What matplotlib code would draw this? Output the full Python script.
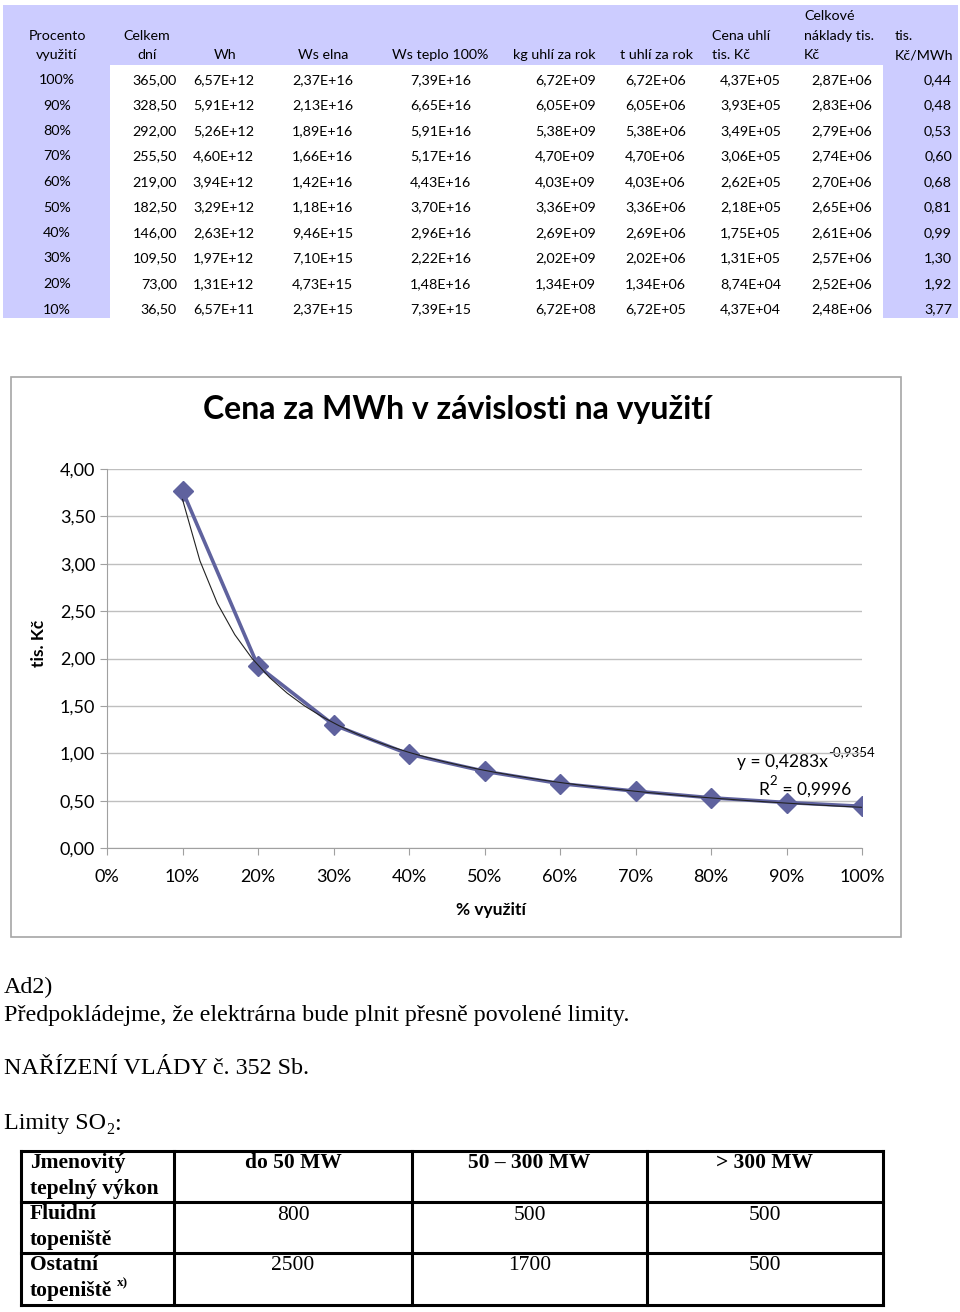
import numpy as np
import matplotlib
matplotlib.use("Agg")
import matplotlib.pyplot as plt
from matplotlib.patches import Rectangle
from matplotlib.ticker import FuncFormatter, MultipleLocator

# data z tabulky
procento = ["100%", "90%", "80%", "70%", "60%", "50%", "40%", "30%", "20%", "10%"]
vyuziti = [1.0, 0.9, 0.8, 0.7, 0.6, 0.5, 0.4, 0.3, 0.2, 0.1]
celkem_dni = [365.00, 328.50, 292.00, 255.50, 219.00, 182.50, 146.00, 109.50, 73.00, 36.50]
wh = [6.57e12, 5.91e12, 5.26e12, 4.60e12, 3.94e12, 3.29e12, 2.63e12, 1.97e12, 1.31e12, 6.57e11]
ws_elna = [2.37e16, 2.13e16, 1.89e16, 1.66e16, 1.42e16, 1.18e16, 9.46e15, 7.10e15, 4.73e15, 2.37e15]
ws_teplo = [7.39e16, 6.65e16, 5.91e16, 5.17e16, 4.43e16, 3.70e16, 2.96e16, 2.22e16, 1.48e16, 7.39e15]
kg_uhli = [6.72e9, 6.05e9, 5.38e9, 4.70e9, 4.03e9, 3.36e9, 2.69e9, 2.02e9, 1.34e9, 6.72e8]
t_uhli = [6.72e6, 6.05e6, 5.38e6, 4.70e6, 4.03e6, 3.36e6, 2.69e6, 2.02e6, 1.34e6, 6.72e5]
cena_uhli = [4.37e5, 3.93e5, 3.49e5, 3.06e5, 2.62e5, 2.18e5, 1.75e5, 1.31e5, 8.74e4, 4.37e4]
naklady = [2.87e6, 2.83e6, 2.79e6, 2.74e6, 2.70e6, 2.65e6, 2.61e6, 2.57e6, 2.52e6, 2.48e6]
cena_mwh = [0.44, 0.48, 0.53, 0.60, 0.68, 0.81, 0.99, 1.30, 1.92, 3.77]

# limity SO2
limity_hlavicka = ["do 50 MW", "50 – 300 MW", "> 300 MW"]
fluidni = [800, 500, 500]
ostatni = [2500, 1700, 500]

W, H = 960, 1312
LAV = "#CCCCFF"
SANS = "Lato"
SERIF = "Liberation Serif"


def sci(v):
    return f"{v:.2E}".replace(".", ",")


def dec(v):
    return f"{v:.2f}".replace(".", ",")


fig = plt.figure(figsize=(W / 100, H / 100), dpi=100)
bg = fig.add_axes([0, 0, 1, 1])
bg.set_xlim(0, W)
bg.set_ylim(H, 0)
bg.axis("off")
renderer = fig.canvas.get_renderer()


def konec(t):
    # prava hrana textu v pixelech
    return t.get_window_extent(renderer=renderer).x1


# --- horni tabulka ---
bg.add_patch(Rectangle((3, 5), 955, 313, color=LAV, lw=0))
bg.add_patch(Rectangle((110, 65), 773, 253, color="white", lw=0))

hdr_center = [(57, ["Procento", "využití"]), (147, ["Celkem", "dní"]),
              (225, ["Wh"]), (323, ["Ws elna"]), (440, ["Ws teplo 100%"]),
              (554, ["kg uhlí za rok"]), (656, ["t uhlí za rok"])]
hdr_left = [(712, ["Cena uhlí", "tis. Kč"]), (804, ["Celkové", "náklady tis.", "Kč"]),
            (895, ["tis.", "Kč/MWh"])]
fs_tab = 10.3
for x, lines in hdr_center:
    for i, t in enumerate(reversed(lines)):
        bg.text(x, 55 - 19.5 * i, t, ha="center", va="center", fontsize=fs_tab, family=SANS)
for x, lines in hdr_left:
    for i, t in enumerate(reversed(lines)):
        bg.text(x, 55 - 19.5 * i, t, ha="left", va="center", fontsize=fs_tab, family=SANS)

cols = [(177, celkem_dni, dec), (254, wh, sci), (353, ws_elna, sci), (471, ws_teplo, sci),
        (596, kg_uhli, sci), (686, t_uhli, sci), (781, cena_uhli, sci),
        (872, naklady, sci), (952, cena_mwh, dec)]
for r in range(len(procento)):
    y = 80 + r * 25.5
    bg.text(57, y, procento[r], ha="center", va="center", fontsize=fs_tab, family=SANS)
    for x, vals, fmt in cols:
        bg.text(x, y, fmt(vals[r]), ha="right", va="center", fontsize=fs_tab, family=SANS)

# --- graf ---
bg.add_patch(Rectangle((11, 377), 890, 560, fill=False, ec="#A6A6A6", lw=1.2))
bg.text(457, 410, "Cena za MWh v závislosti na využití", ha="center", va="center",
        fontsize=23, fontweight="bold", family=SANS)

x0, x1, y0, y1 = 107, 862, 469, 848
ax = fig.add_axes([x0 / W, (H - y1) / H, (x1 - x0) / W, (y1 - y0) / H])
ax.set_facecolor("none")
ax.set_xlim(0, 1)
ax.set_ylim(0, 4)
ax.yaxis.set_major_locator(MultipleLocator(0.5))
ax.xaxis.set_major_locator(MultipleLocator(0.1))
ax.yaxis.set_major_formatter(FuncFormatter(lambda v, p: dec(v)))
ax.xaxis.set_major_formatter(FuncFormatter(lambda v, p: f"{v * 100:.0f}%"))
ax.grid(axis="y", color="#BFBFBF", lw=1)
ax.set_axisbelow(True)
for s in ["top", "right"]:
    ax.spines[s].set_visible(False)
for s in ["left", "bottom"]:
    ax.spines[s].set_color("#A0A0A0")
ax.tick_params(colors="#A0A0A0", labelcolor="black", labelsize=13, length=5)
for lab in ax.get_xticklabels() + ax.get_yticklabels():
    lab.set_family(SANS)
ax.tick_params(axis="x", pad=10)

ax.plot(vyuziti, cena_mwh, color="#5F629E", lw=2.6, marker="D", ms=10.5, zorder=3)

# mocninna spojnice trendu
k, q = np.polyfit(np.log(vyuziti), np.log(cena_mwh), 1)
xt = np.linspace(min(vyuziti), max(vyuziti), 40)
ax.plot(xt, np.exp(q) * xt ** k, color="#222222", lw=0.8, zorder=4)

ax.set_xlabel("% využití", fontsize=12.5, fontweight="bold", family=SANS)
ax.set_ylabel("tis. Kč", fontsize=12.5, fontweight="bold", family=SANS)
ax.xaxis.set_label_coords(0.509, -0.142)
ax.yaxis.set_label_coords(-0.08, 0.54)

t = bg.text(737, 762, "y = 0,4283x", ha="left", va="center", fontsize=12.5, family=SANS)
bg.text(konec(t), 752, "-0,9354", ha="left", va="center", fontsize=9.5, family=SANS)
t = bg.text(758, 790, "R", ha="left", va="center", fontsize=12.5, family=SANS)
t2 = bg.text(konec(t) + 1, 781, "2", ha="left", va="center", fontsize=9.5, family=SANS)
bg.text(konec(t2), 790, " = 0,9996", ha="left", va="center", fontsize=12.5, family=SANS)

# --- text pod grafem ---
fs_ser = 17.3
bg.text(4, 987, "Ad2)", ha="left", va="center", fontsize=fs_ser, family=SERIF)
bg.text(4, 1015, "Předpokládejme, že elektrárna bude plnit přesně povolené limity.",
        ha="left", va="center", fontsize=fs_ser, family=SERIF)
bg.text(4, 1069, "NAŘÍZENÍ VLÁDY č. 352 Sb.", ha="left", va="center", fontsize=fs_ser, family=SERIF)
t = bg.text(4, 1124, "Limity SO", ha="left", va="center", fontsize=fs_ser, family=SERIF)
t2 = bg.text(konec(t), 1130, "2", ha="left", va="center", fontsize=11.5, family=SERIF)
bg.text(konec(t2), 1124, ":", ha="left", va="center", fontsize=fs_ser, family=SERIF)

# --- tabulka limitu ---
xs = [21, 174, 412, 647, 883]
ys = [1151, 1202, 1253, 1305]
for x in xs:
    bg.plot([x, x], [ys[0], ys[-1]], color="black", lw=2.2, solid_capstyle="projecting")
for y in ys:
    bg.plot([xs[0], xs[-1]], [y, y], color="black", lw=2.2, solid_capstyle="projecting")

fs_lim = 15.5
rows_lbl = [["Jmenovitý", "tepelný výkon"], ["Fluidní", "topeniště"], ["Ostatní", "topeniště"]]
for r, lines in enumerate(rows_lbl):
    for i, s in enumerate(lines):
        t = bg.text(30, ys[r] + 12 + 26 * i, s, ha="left", va="center", fontsize=fs_lim,
                    fontweight="bold", family=SERIF)
bg.text(konec(t) + 5, 1283, "x)", ha="left", va="center", fontsize=9.5, fontweight="bold",
        family=SERIF)

for c in range(3):
    xc = (xs[c + 1] + xs[c + 2]) / 2
    bg.text(xc, ys[0] + 12, limity_hlavicka[c], ha="center", va="center", fontsize=fs_lim,
            fontweight="bold", family=SERIF)
    bg.text(xc, ys[1] + 13, str(fluidni[c]), ha="center", va="center", fontsize=fs_lim, family=SERIF)
    bg.text(xc, ys[2] + 13, str(ostatni[c]), ha="center", va="center", fontsize=fs_lim, family=SERIF)

fig.savefig("out.png", dpi=100)
